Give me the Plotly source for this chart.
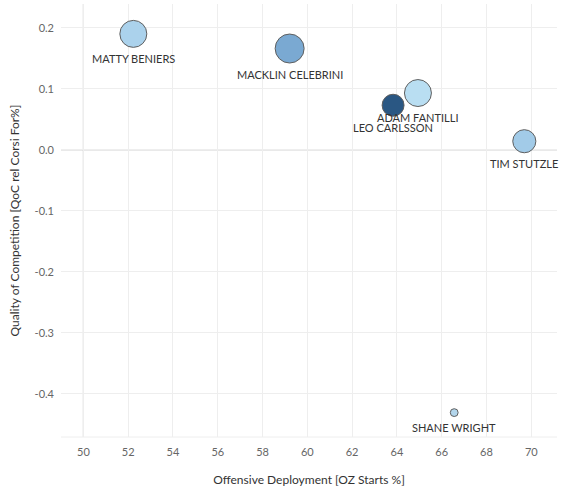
import math
import plotly.graph_objects as go

# player deployment data
players = ['MATTY BENIERS', 'MACKLIN CELEBRINI', 'ADAM FANTILLI',
           'LEO CARLSSON', 'TIM STUTZLE', 'SHANE WRIGHT']
oz_starts = [52.23, 59.21, 64.94, 63.83, 69.69, 66.56]
qoc_rel_cf = [0.190, 0.166, 0.093, 0.073, 0.014, -0.431]
games = [71, 82, 71, 47, 52, 6]
colors = ['#abd2ec', '#7aa9d2', '#b9def2', '#2a5783', '#a2cbe8', '#b3d6ec']

x_ticks = [50, 52, 54, 56, 58, 60, 62, 64, 66, 68, 70]
y_ticks = [0.2, 0.1, 0.0, -0.1, -0.2, -0.3, -0.4]
y_tick_text = ['0.2', '0.1', '0.0', '-0.1', '-0.2', '-0.3', '-0.4']

max_diam = 29
trace = go.Scatter(
    x=oz_starts,
    y=qoc_rel_cf,
    mode='markers',
    marker=dict(
        size=games,
        sizemode='area',
        sizeref=2.0 * max(games) / (max_diam ** 2),
        color=colors,
        line=dict(color='#5f5f5f', width=1),
        opacity=1,
    ),
    cliponaxis=False,
    text=players,
    hoverinfo='text',
)

# labels under each bubble
annotations = []
for name, xv, yv, g in zip(players, oz_starts, qoc_rel_cf, games):
    d = max_diam * math.sqrt(g / max(games))
    annotations.append(dict(
        x=xv, y=yv, xref='x', yref='y', text=name, showarrow=False,
        yshift=-(d / 2 + 11), borderpad=0,
        font=dict(family='Lato', size=11, color='#333333'),
    ))

layout = go.Layout(
    width=576,
    height=497,
    margin=dict(l=61, r=19, t=4, b=60),
    paper_bgcolor='white',
    plot_bgcolor='white',
    showlegend=False,
    font=dict(family='Lato', size=11, color='#666666'),
    annotations=annotations,
    xaxis=dict(
        range=[49.0, 71.15],
        tickvals=x_ticks,
        showgrid=True,
        gridcolor='#eeeeee',
        gridwidth=1,
        zeroline=False,
        showline=False,
        ticks='',
        automargin=False,
        ticklabelstandoff=7,
        tickfont=dict(size=11, color='#666666'),
        title=dict(text='Offensive Deployment [OZ Starts %]',
                   font=dict(size=12, color='#333333'), standoff=18),
    ),
    yaxis=dict(
        range=[-0.471, 0.239],
        tickvals=y_ticks,
        ticktext=y_tick_text,
        showgrid=True,
        gridcolor='#eeeeee',
        gridwidth=1,
        zeroline=False,
        showline=False,
        ticks='',
        automargin=False,
        ticklabelstandoff=6,
        tickfont=dict(size=11, color='#666666'),
        title=dict(text='Quality of Competition [QoC rel Corsi For%]',
                   font=dict(size=12, color='#333333'), standoff=12),
    ),
    shapes=[
        dict(type='line', xref='x', yref='paper', x0=50, x1=50, y0=0, y1=1,
             line=dict(color='#a6a6a6', width=1), layer='below'),
        dict(type='line', xref='paper', yref='y', x0=0, x1=1, y0=0, y1=0,
             line=dict(color='#a6a6a6', width=1), layer='below'),
        dict(type='line', xref='paper', yref='paper', x0=0, x1=1, y0=0, y1=0,
             line=dict(color='#eeeeee', width=1), layer='below'),
    ],
)

fig = go.Figure(data=[trace], layout=layout)
# drop the browser's default page margin so the chart sits at the corner
fig.write_html('out.html',
               config={'displayModeBar': False},
               post_script="document.body.style.margin='0';")
